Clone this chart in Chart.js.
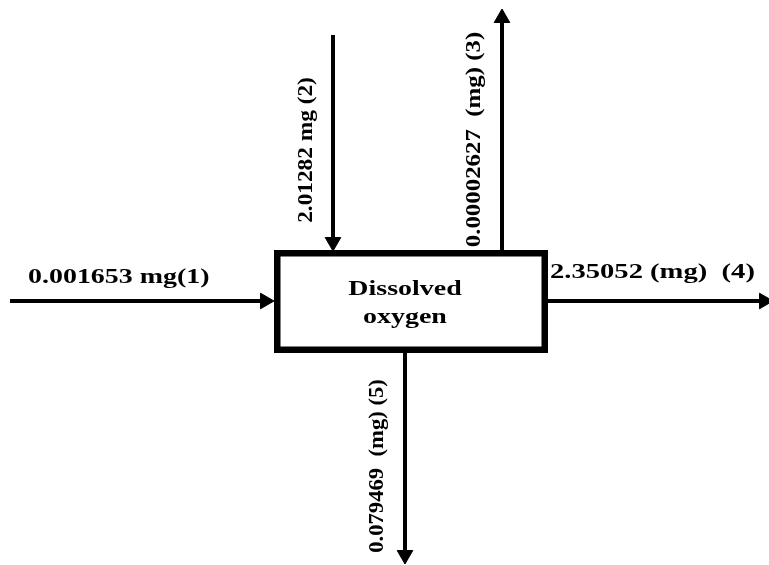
<!DOCTYPE html>
<html>
  <head>
    <title>Dissolved oxygen balance</title>
    <script src="https://cdn.jsdelivr.net/npm/chart.js"></script>
    <style>
      body { margin: 0; background: #ffffff; }
      #probe { position: absolute; left: -999px; top: 0; font: bold 22px "Liberation Serif"; }
    </style>
  </head>

  <body>
    <span id="probe">Dissolved 0.001653</span>
    <canvas id="balanco" width="769" height="565"></canvas>

    <script>
      // fluxos (mg)
      var flowNumbers = [1, 2, 3, 4, 5];
      var flowValues = [0.001653, 2.01282, 0.00002627, 2.35052, 0.079469];
      var flowLabels = [
        "0.001653 mg(1)",
        "2.01282 mg (2)",
        "0.00002627  (mg) (3)",
        "2.35052 (mg)  (4)",
        "0.079469  (mg) (5)",
      ];
      var boxLabel = ["Dissolved", "oxygen"];

      // desenho: caixa e setas em unidades do diagrama (= px)
      var box = { x1: 277.25, x2: 544.75, y1: 253.25, y2: 349.75 };
      var arrows = [
        { from: [10, 301], tip: [274, 301], rot: 90 },
        { from: [333, 35], tip: [333, 251], rot: 180 },
        { from: [502, 250], tip: [502, 9], rot: 0 },
        { from: [548, 301], tip: [773, 301], rot: 90 },
        { from: [405, 353], tip: [405, 564], rot: 180 },
      ];
      var textPos = [
        { x: 28, y: 283, angle: 0, sx: 1.27, align: "left", base: "alphabetic" },
        { x: 306.5, y: 150, angle: -90, sx: 1.06, align: "center", base: "middle" },
        { x: 474.5, y: 139.5, angle: -90, sx: 1.13, align: "center", base: "middle" },
        { x: 550, y: 278, angle: 0, sx: 1.3, align: "left", base: "alphabetic" },
        { x: 377.5, y: 466, angle: -90, sx: 1.03, align: "center", base: "middle" },
      ];
      var headR = 9;
      var fonte = "bold 22px 'Liberation Serif', 'Times New Roman', serif";

      var datasets = [];
      datasets.push({
        data: [
          { x: box.x1, y: box.y1 },
          { x: box.x2, y: box.y1 },
          { x: box.x2, y: box.y2 },
          { x: box.x1, y: box.y2 },
          { x: box.x1, y: box.y1 },
          { x: box.x2, y: box.y1 },
        ],
        borderColor: "#000000",
        borderWidth: 6.5,
        borderJoinStyle: "miter",
        pointRadius: 0,
        showLine: true,
      });

      arrows.forEach(function (a) {
        var dx = a.tip[0] - a.from[0];
        var dy = a.tip[1] - a.from[1];
        var len = Math.sqrt(dx * dx + dy * dy);
        var end = [a.tip[0] - (dx / len) * headR, a.tip[1] - (dy / len) * headR];
        datasets.push({
          data: [
            { x: a.from[0], y: a.from[1] },
            { x: end[0], y: end[1] },
          ],
          borderColor: "#000000",
          borderWidth: 4,
          borderCapStyle: "butt",
          showLine: true,
          pointRadius: [0, headR],
          pointStyle: "triangle",
          pointRotation: a.rot,
          pointBackgroundColor: "#000000",
          pointBorderColor: "#000000",
          pointBorderWidth: 1,
          clip: false,
        });
      });

      var textos = {
        id: "textos",
        afterDatasetsDraw: function (chart) {
          var ctx = chart.ctx;
          var sx = chart.scales.x;
          var sy = chart.scales.y;
          ctx.save();
          ctx.fillStyle = "#000000";
          ctx.font = fonte;

          flowLabels.forEach(function (t, i) {
            var p = textPos[i];
            ctx.save();
            ctx.translate(sx.getPixelForValue(p.x), sy.getPixelForValue(p.y));
            ctx.rotate((p.angle * Math.PI) / 180);
            ctx.scale(p.sx, 1);
            ctx.textAlign = p.align;
            ctx.textBaseline = p.base;
            ctx.fillText(t, 0, 0);
            ctx.restore();
          });

          var cx = sx.getPixelForValue((box.x1 + box.x2) / 2 - 6);
          var linhas = [295, 323];
          boxLabel.forEach(function (t, i) {
            ctx.save();
            ctx.translate(cx, sy.getPixelForValue(linhas[i]));
            ctx.scale(1.27, 1);
            ctx.textAlign = "center";
            ctx.textBaseline = "alphabetic";
            ctx.fillText(t, 0, 0);
            ctx.restore();
          });
          ctx.restore();
        },
      };

      var grafico = new Chart(document.getElementById("balanco").getContext("2d"), {
        type: "scatter",
        data: { datasets: datasets },
        options: {
          responsive: false,
          animation: false,
          layout: { padding: 0, autoPadding: false },
          plugins: { legend: { display: false }, tooltip: { enabled: false } },
          scales: {
            x: { type: "linear", min: 0, max: 769, display: false },
            y: { type: "linear", min: 0, max: 565, reverse: true, display: false },
          },
        },
        plugins: [textos],
      });

      if (document.fonts) {
        document.fonts.load(fonte).then(function () {
          grafico.update();
        });
      }
    </script>
  </body>
</html>
